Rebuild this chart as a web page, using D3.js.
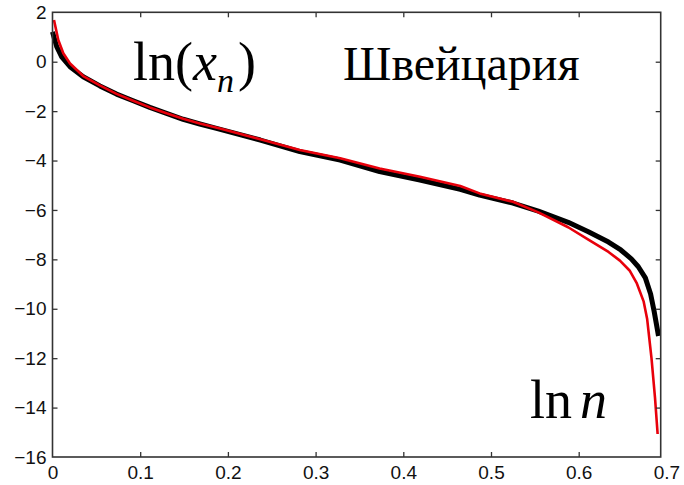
<!DOCTYPE html>
<html>
<head>
<meta charset="utf-8">
<script src="https://cdn.jsdelivr.net/npm/d3@7"></script>
<style>
html,body{margin:0;padding:0;background:#fff;}
svg{display:block;}
</style>
</head>
<body>
<svg id="chart" width="684" height="485"></svg>
<script>
// ---- data ----
const xTicks = [0, 0.1, 0.2, 0.3, 0.4, 0.5, 0.6, 0.7];
const xTickLabels = ["0", "0.1", "0.2", "0.3", "0.4", "0.5", "0.6", "0.7"];
const yTicks = [2, 0, -2, -4, -6, -8, -10, -12, -14, -16];
const yTickLabels = ["2", "0", "−2", "−4", "−6", "−8", "−10", "−12", "−14", "−16"];
const xMax = 0.6935;

const blackX = [0, 0.0048, 0.0105, 0.02, 0.035, 0.054, 0.073, 0.092, 0.111, 0.13, 0.149, 0.168, 0.187, 0.237, 0.282, 0.328, 0.373, 0.419, 0.465, 0.487, 0.525, 0.554, 0.588, 0.611, 0.634, 0.648, 0.66, 0.668, 0.676, 0.682, 0.686, 0.689, 0.691];
const blackY = [1.21, 0.61, 0.2, -0.2, -0.61, -0.98, -1.31, -1.58, -1.85, -2.09, -2.33, -2.52, -2.70, -3.17, -3.64, -3.98, -4.45, -4.79, -5.17, -5.4, -5.72, -6.05, -6.5, -6.88, -7.3, -7.62, -7.98, -8.3, -8.75, -9.4, -10.1, -10.7, -11.1];

const redX = [0.0017, 0.0066, 0.0123, 0.02, 0.035, 0.054, 0.073, 0.092, 0.111, 0.13, 0.149, 0.168, 0.191, 0.237, 0.282, 0.328, 0.373, 0.419, 0.465, 0.487, 0.525, 0.554, 0.588, 0.611, 0.634, 0.647, 0.658, 0.666, 0.674, 0.678, 0.683, 0.687, 0.69];
const redY = [1.69, 0.88, 0.34, -0.07, -0.58, -0.96, -1.30, -1.58, -1.85, -2.09, -2.31, -2.50, -2.70, -3.14, -3.57, -3.91, -4.32, -4.66, -5.03, -5.33, -5.67, -6.1, -6.7, -7.2, -7.7, -8.05, -8.45, -8.95, -9.7, -10.4, -12.0, -13.6, -15.07];

// ---- layout ----
const svg = d3.select("#chart");
const pLeft = 52.5, pTop = 12.3, pBottom = 457;
const x = d3.scaleLinear().domain([0, 0.7]).range([pLeft, pLeft + 0.7 * 877]);
const y = d3.scaleLinear().domain([-16, 2]).range([pBottom, pTop]);
const pRight = x(xMax);

const axisColor = "#333";
const tickFont = "'Liberation Sans', Arial, sans-serif";

// curves
const line = d3.line().x(d => x(d[0])).y(d => y(d[1]));
svg.append("path")
  .datum(d3.zip(blackX, blackY))
  .attr("d", line).attr("fill", "none").attr("stroke", "#000")
  .attr("stroke-width", 5).attr("stroke-linejoin", "round");
svg.append("path")
  .datum(d3.zip(redX, redY))
  .attr("d", line).attr("fill", "none").attr("stroke", "#e8000b")
  .attr("stroke-width", 2.6).attr("stroke-linejoin", "round");

// axes
const gB = svg.append("g").attr("transform", `translate(0,${pBottom})`)
  .call(d3.axisBottom(x).tickValues(xTicks).tickFormat((d, i) => xTickLabels[i]).tickSize(-5).tickPadding(9));
const gT = svg.append("g").attr("transform", `translate(0,${pTop})`)
  .call(d3.axisTop(x).tickValues(xTicks.filter(v => v > 0 && v < xMax)).tickFormat("").tickSize(-5));
const gL = svg.append("g").attr("transform", `translate(${pLeft},0)`)
  .call(d3.axisLeft(y).tickValues(yTicks).tickFormat((d, i) => yTickLabels[i]).tickSize(-5).tickPadding(6));
const gR = svg.append("g").attr("transform", `translate(${pRight},0)`)
  .call(d3.axisRight(y).tickValues(yTicks.filter(v => v > -16 && v < 2)).tickFormat("").tickSize(-5));

[gB, gT, gL, gR].forEach(g => {
  g.select(".domain").remove();
  g.selectAll(".tick line").attr("stroke", axisColor).attr("stroke-width", 1.3);
  g.selectAll("text").attr("fill", "#111").style("font-family", tickFont).style("font-size", "19px");
});
gB.selectAll(".tick").filter(d => d <= 0 || d >= xMax).select("line").remove();
gL.selectAll(".tick").filter(d => d <= -16 || d >= 2).select("line").remove();

svg.append("rect")
  .attr("x", pLeft).attr("y", pTop).attr("width", pRight - pLeft).attr("height", pBottom - pTop)
  .attr("fill", "none").attr("stroke", axisColor).attr("stroke-width", 1.6);

// annotations
const serif = "'Liberation Serif', 'Times New Roman', serif";
const t1 = svg.append("text").attr("x", 133).attr("y", 79.5)
  .style("font-family", serif).style("font-size", "54px").attr("fill", "#000");
t1.append("tspan").text("ln(");
t1.append("tspan").style("font-style", "italic").text("x");
t1.append("tspan").style("font-style", "italic").style("font-size", "34px").attr("dy", 12).text("n");
t1.append("tspan").attr("dy", -12).attr("dx", 4).text(")");

svg.append("text").attr("x", 343).attr("y", 80)
  .style("font-family", serif).style("font-size", "48px").attr("fill", "#000")
  .text("Швейцария");

const t3 = svg.append("text").attr("x", 530).attr("y", 418.3)
  .style("font-family", serif).style("font-size", "54px").attr("fill", "#000");
t3.append("tspan").text("ln");
t3.append("tspan").attr("dx", 8).style("font-style", "italic").text("n");
</script>
</body>
</html>
